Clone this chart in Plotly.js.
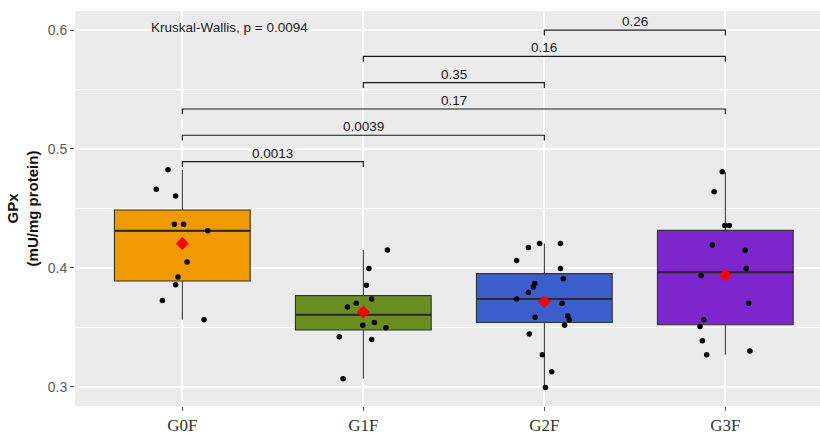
<!DOCTYPE html>
<html>
<head>
<meta charset="utf-8">
<script src="https://cdn.plot.ly/plotly-3.0.1.min.js"></script>
<style>
  html, body { margin: 0; padding: 0; background: #ffffff; }
  #chart { width: 820px; height: 435px; }
</style>
</head>
<body>
<div id="chart"></div>
<script>
// Groups and GPx activity per animal (mU/mg protein)
const groups = ['G0F', 'G1F', 'G2F', 'G3F'];

const gpxG0F = [0.4824, 0.4661, 0.4605, 0.4367, 0.4367, 0.4311, 0.4050, 0.3922, 0.3857, 0.3725, 0.3563];
const gpxG1F = [0.4149, 0.3994, 0.3854, 0.3737, 0.3703, 0.3670, 0.3541, 0.3518, 0.3496, 0.3420, 0.3398, 0.3067];
const gpxG2F = [0.4204, 0.4204, 0.4171, 0.4062, 0.3994, 0.3908, 0.3868, 0.3838, 0.3793, 0.3737, 0.3703,
                0.3585, 0.3594, 0.3563, 0.3518, 0.3443, 0.3269, 0.3126, 0.2994];
const gpxG3F = [0.4809, 0.4639, 0.4356, 0.4356, 0.4193, 0.4148, 0.3994, 0.3933, 0.3703, 0.3563, 0.3507,
                0.3387, 0.3269, 0.3300];

// Horizontal jitter of each point (category units), same order as the values above
const jitterG0F = [-0.079, -0.144, -0.037, -0.044, 0.007, 0.140, 0.026, -0.024, -0.037, -0.110, 0.120];
const jitterG1F = [0.133, 0.031, 0.017, 0.046, -0.039, -0.088, 0.061, -0.003, 0.125, -0.133, 0.046, -0.112];
const jitterG2F = [-0.026, 0.089, -0.088, -0.153, 0.089, 0.105, -0.053, -0.061, -0.088, -0.153, 0.098,
                   -0.051, 0.129, 0.138, 0.112, -0.083, -0.011, 0.041, 0.006];
const jitterG3F = [-0.017, -0.062, -0.003, 0.022, -0.072, 0.109, 0.116, -0.134, 0.129, -0.119, -0.140,
                   -0.127, -0.103, 0.136];

// Pairwise Wilcoxon comparisons (group indices) and their p-values
const pairA = [0, 0, 0, 1, 1, 2];
const pairB = [1, 2, 3, 2, 3, 3];
const pValues = ['0.0013', '0.0039', '0.17', '0.35', '0.16', '0.26'];
const kruskalP = '0.0094';

const values = [gpxG0F, gpxG1F, gpxG2F, gpxG3F];
const jitters = [jitterG0F, jitterG1F, jitterG2F, jitterG3F];
const fills = ['#EE9A00', '#6B8E23', '#3A5FCD', '#7D26CD'];
const BOX_W = 0.75;
const SANS = 'Liberation Sans, Arial, sans-serif';

// type-7 quantile (R default)
function quantile(sorted, p) {
  const h = (sorted.length - 1) * p;
  const lo = Math.floor(h), hi = Math.ceil(h);
  return sorted[lo] + (h - lo) * (sorted[hi] - sorted[lo]);
}

function stats(v) {
  const s = v.slice().sort((a, b) => a - b);
  const q1 = quantile(s, 0.25), med = quantile(s, 0.5), q3 = quantile(s, 0.75);
  const iqr = q3 - q1;
  const lf = s.find(d => d >= q1 - 1.5 * iqr);
  const uf = s.slice().reverse().find(d => d <= q3 + 1.5 * iqr);
  const mean = v.reduce((a, b) => a + b, 0) / v.length;
  return { q1, med, q3, lf, uf, mean };
}

const traces = [];
const st = values.map(stats);

// boxes
st.forEach((s, i) => {
  traces.push({
    type: 'box', x: [i], q1: [s.q1], median: [s.med], q3: [s.q3],
    lowerfence: [s.lf], upperfence: [s.uf],
    width: BOX_W, whiskerwidth: 0, boxpoints: false,
    fillcolor: fills[i], line: { color: '#333333', width: 1.1 },
    hoverinfo: 'skip', showlegend: false
  });
  // thicker median bar
  traces.push({
    type: 'scatter', mode: 'lines',
    x: [i - BOX_W / 2, i + BOX_W / 2], y: [s.med, s.med],
    line: { color: '#2a2a2a', width: 2 }, hoverinfo: 'skip', showlegend: false
  });
});

// jittered observations
values.forEach((v, i) => {
  traces.push({
    type: 'scatter', mode: 'markers',
    x: v.map((_, k) => i + jitters[i][k]), y: v,
    marker: { color: '#000000', size: 5.5 },
    hoverinfo: 'y', showlegend: false
  });
});

// group means
traces.push({
  type: 'scatter', mode: 'markers',
  x: groups.map((_, i) => i), y: st.map(s => s.mean),
  marker: { symbol: 'diamond', color: '#FF0000', size: 10 },
  hoverinfo: 'y', showlegend: false
});

// significance brackets stacked above the highest observation
const allVals = [].concat(...values);
const bracketBase = Math.max(...allVals) + 0.007;
const bracketStep = 0.0221;
const tip = 0.0045;
const annotations = [];
pairA.forEach((a, k) => {
  const b = pairB[k];
  const yb = bracketBase + k * bracketStep;
  traces.push({
    type: 'scatter', mode: 'lines',
    x: [a, a, b, b], y: [yb - tip, yb, yb, yb - tip],
    line: { color: '#1a1a1a', width: 1.2 }, hoverinfo: 'skip', showlegend: false
  });
  annotations.push({
    x: (a + b) / 2, y: yb, xref: 'x', yref: 'y',
    text: pValues[k], showarrow: false, xanchor: 'center', yanchor: 'bottom',
    yshift: -1, font: { family: SANS, size: 13.5, color: '#1a1a1a' }
  });
});

annotations.push({
  x: -0.185, y: 0.6023, xref: 'x', yref: 'y',
  text: 'Kruskal-Wallis, p = ' + kruskalP, showarrow: false,
  xanchor: 'left', yanchor: 'middle',
  font: { family: SANS, size: 13.5, color: '#1a1a1a' }
});

const layout = {
  width: 820, height: 435,
  margin: { l: 75, r: 0, t: 11, b: 29, pad: 0 },
  paper_bgcolor: '#ffffff', plot_bgcolor: '#EBEBEB',
  showlegend: false, hovermode: 'closest',
  xaxis: {
    type: 'linear', range: [-0.593, 3.523],
    tickvals: groups.map((_, i) => i), ticktext: groups,
    showgrid: true, gridcolor: '#ffffff', gridwidth: 1.5, zeroline: false,
    ticks: 'outside', ticklen: 4, tickwidth: 1, tickcolor: '#555555',
    tickfont: { family: 'Liberation Serif, Times New Roman, serif', size: 17, color: '#333333' },
    fixedrange: true
  },
  yaxis: {
    range: [0.2838, 0.616], tick0: 0.3, dtick: 0.1, tickformat: '.1f',
    showgrid: true, gridcolor: '#ffffff', gridwidth: 1.5, zeroline: false,
    minor: { dtick: 0.05, showgrid: true, gridcolor: '#ffffff', gridwidth: 0.8 },
    ticks: 'outside', ticklen: 4, tickwidth: 1, tickcolor: '#555555',
    tickfont: { family: SANS, size: 14, color: '#5a5a5a' },
    title: {
      text: 'GPx<br>(mU/mg protein)', standoff: 5,
      font: { family: SANS, size: 15, color: '#111111', weight: 'bold' }
    },
    fixedrange: true
  },
  annotations: annotations
};

Plotly.newPlot('chart', traces, layout, { displayModeBar: false, staticPlot: false });
</script>
</body>
</html>
